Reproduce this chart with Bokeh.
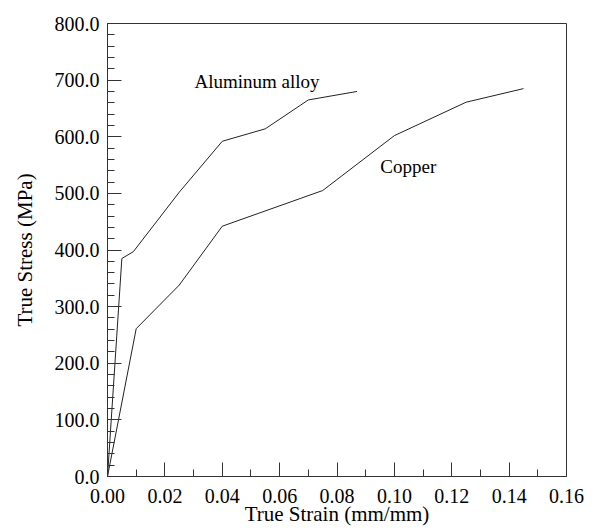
from bokeh.plotting import figure
from bokeh.models import FixedTicker, NumeralTickFormatter, Range1d
from bokeh.core.properties import value
from bokeh.embed import file_html
from bokeh.resources import INLINE

# Data
al_strain = [0.0, 0.005, 0.009, 0.025, 0.040, 0.055, 0.070, 0.087]
al_stress = [0.0, 385.0, 397.0, 502.0, 592.0, 614.0, 665.0, 680.0]
cu_strain = [0.0, 0.010, 0.025, 0.040, 0.075, 0.100, 0.125, 0.145]
cu_stress = [0.0, 261.0, 338.0, 442.0, 505.0, 602.0, 661.0, 685.0]

x_ticks = [0.00, 0.02, 0.04, 0.06, 0.08, 0.10, 0.12, 0.14, 0.16]
y_ticks = [0, 100, 200, 300, 400, 500, 600, 700, 800]
x_minor = [0.01, 0.03, 0.05, 0.07, 0.09, 0.11, 0.13, 0.15]
y_minor = [v for v in range(0, 801, 20) if v % 100 != 0]

labels = ["Aluminum alloy", "Copper"]
label_x = [0.0303, 0.0951]
label_y = [698.0, 548.0]

FONT = "'Liberation Serif', 'Times New Roman', serif"

p = figure(width=597, height=528, output_backend="svg", toolbar_location=None,
           x_range=Range1d(0, 0.16), y_range=Range1d(0, 800),
           min_border_left=107, min_border_right=31, min_border_top=23, min_border_bottom=51)

p.xgrid.visible = False
p.ygrid.visible = False
p.outline_line_color = "#333333"
p.outline_line_width = 1
p.background_fill_color = "white"
p.border_fill_color = "white"

p.line(al_strain, al_stress, line_color="#222222", line_width=1)
p.line(cu_strain, cu_stress, line_color="#222222", line_width=1)

p.text(x=label_x, y=label_y, text=labels, text_font=value(FONT),
       text_font_size="19px", text_align="left", text_baseline="middle",
       text_color="black")

p.xaxis.ticker = FixedTicker(ticks=x_ticks, minor_ticks=x_minor)
p.yaxis.ticker = FixedTicker(ticks=y_ticks, minor_ticks=y_minor)
p.xaxis.formatter = NumeralTickFormatter(format="0.00")
p.yaxis.formatter = NumeralTickFormatter(format="0.0")

p.axis.major_tick_in = 14
p.axis.major_tick_out = 0
p.axis.minor_tick_in = 7
p.axis.minor_tick_out = 0
p.axis.axis_line_color = "#333333"
p.axis.major_tick_line_color = "#333333"
p.axis.minor_tick_line_color = "#333333"
p.axis.major_label_text_font = FONT
p.axis.major_label_text_font_size = "20px"
p.axis.major_label_text_font_style = "normal"
p.axis.major_label_text_color = "black"
p.axis.axis_label_text_font = FONT
p.axis.axis_label_text_font_size = "21px"
p.axis.axis_label_text_font_style = "normal"
p.axis.axis_label_text_color = "black"

p.xaxis.axis_label = "True Strain (mm/mm)"
p.yaxis.axis_label = "True Stress (MPa)"
p.xaxis.major_label_standoff = 12
p.xaxis.axis_label_standoff = -4
p.yaxis.major_label_standoff = 8
p.yaxis.axis_label_standoff = 15

open("out.html", "w").write(file_html(p, INLINE))
